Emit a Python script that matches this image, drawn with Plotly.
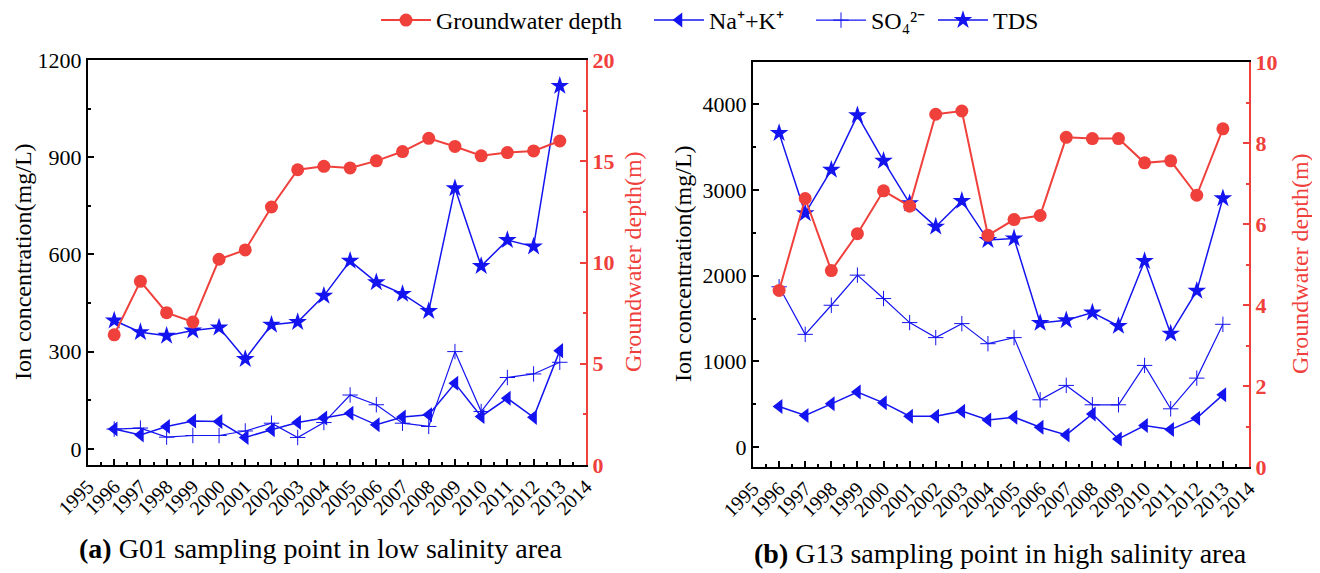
import plotly.graph_objects as go

years = list(range(1996, 2014))

# Panel (a) G01
a_depth = [6.43, 9.07, 7.52, 7.06, 10.16, 10.62, 12.74, 14.58, 14.75, 14.67, 15.02, 15.48, 16.13, 15.73, 15.27, 15.43, 15.51, 16.0]
a_nak = [61, 43, 69, 86, 84, 35, 59, 81, 95, 110, 74, 98, 105, 202, 100, 156, 97, 303]
a_so4 = [61, 64, 36, 41, 41, 55, 79, 35, 81, 166, 136, 79, 69, 300, 115, 220, 231, 267]
a_tds = [396, 360, 349, 365, 374, 277, 383, 391, 472, 580, 514, 478, 425, 804, 564, 644, 624, 1120]

# Panel (b) G13
b_depth = [4.36, 6.63, 4.85, 5.76, 6.82, 6.44, 8.71, 8.79, 5.72, 6.11, 6.21, 8.14, 8.11, 8.11, 7.51, 7.56, 6.71, 8.35]
b_nak = [475, 370, 506, 643, 518, 362, 362, 421, 319, 351, 234, 144, 389, 97, 253, 206, 339, 611]
b_so4 = [1870, 1316, 1655, 2006, 1733, 1453, 1278, 1441, 1207, 1278, 553, 721, 495, 495, 954, 448, 806, 1433]
b_tds = [3661, 2727, 3233, 3868, 3338, 2843, 2571, 2871, 2415, 2434, 1449, 1480, 1570, 1414, 2170, 1324, 1823, 2902]

x_ticks = list(range(1995, 2015))

names = ["Groundwater depth", "Na\u207a+K\u207a", "SO\u2084\u00b2\u207b", "TDS"]

RED = "#f0403c"
BLUE = "#1414f0"
FONT = "Liberation Serif, Times New Roman, serif"

# page has an 8px body margin; figure is sized to fill the rest of the window
OFF = 8
W, H = 1320 - OFF, 573 - OFF


def fx(px):
    return (px - OFF) / W


def fy(py):
    return 1 - (py - OFF) / H


fig = go.Figure()


def add_panel(xa, ya, ya2, depth, nak, so4, tds, show):
    fig.add_trace(go.Scatter(x=years, y=nak, name=names[1], mode="lines+markers",
                             line=dict(color=BLUE, width=1.5),
                             marker=dict(symbol="triangle-left", size=13, color=BLUE),
                             xaxis=xa, yaxis=ya, showlegend=show, legend="legend2"))
    fig.add_trace(go.Scatter(x=years, y=so4, name=names[2], mode="lines+markers",
                             line=dict(color=BLUE, width=1.2),
                             marker=dict(symbol="cross-thin", size=11, color=BLUE,
                                         line=dict(color=BLUE, width=1)),
                             xaxis=xa, yaxis=ya, showlegend=show, legend="legend3"))
    fig.add_trace(go.Scatter(x=years, y=tds, name=names[3], mode="lines+markers",
                             line=dict(color=BLUE, width=1.5),
                             marker=dict(symbol="star", size=14, color=BLUE),
                             xaxis=xa, yaxis=ya, showlegend=show, legend="legend4"))
    fig.add_trace(go.Scatter(x=years, y=depth, name=names[0], mode="lines+markers",
                             line=dict(color=RED, width=2),
                             marker=dict(symbol="circle", size=13, color=RED),
                             xaxis=xa, yaxis=ya2, showlegend=show, legend="legend"))


add_panel("x", "y", "y2", a_depth, a_nak, a_so4, a_tds, True)
add_panel("x2", "y3", "y4", b_depth, b_nak, b_so4, b_tds, False)


def xaxis(domain, anchor):
    return dict(domain=domain, anchor=anchor, range=[1995, 2014], tickvals=x_ticks,
                ticktext=[str(v) for v in x_ticks], tickangle=-45, automargin=False,
                ticks="inside", ticklen=6, tickwidth=1.5, tickcolor="black",
                minor=dict(ticks="inside", ticklen=3, dtick=0.5, tick0=1995.5, tickcolor="black"),
                showline=True, linecolor="black", linewidth=2, mirror=True,
                showgrid=False, zeroline=False,
                tickfont=dict(family=FONT, size=20, color="black"))


def yleft(domain, anchor, rng, dtick):
    return dict(domain=domain, anchor=anchor, range=rng, dtick=dtick, tick0=0, automargin=False,
                ticks="inside", ticklen=6, tickwidth=1.5, tickcolor="black",
                minor=dict(ticks="inside", ticklen=3, dtick=dtick / 2, tickcolor="black"),
                showline=True, linecolor="black", linewidth=2,
                showgrid=False, zeroline=False,
                tickfont=dict(family=FONT, size=22, color="black"))


def yright(overlay, anchor, rng, dtick):
    return dict(overlaying=overlay, anchor=anchor, side="right", range=rng, dtick=dtick, tick0=0,
                automargin=False,
                ticks="inside", ticklen=6, tickwidth=1.5, tickcolor=RED,
                minor=dict(ticks="inside", ticklen=3, dtick=dtick / 2, tickcolor=RED),
                showline=True, linecolor=RED, linewidth=2,
                showgrid=False, zeroline=False,
                tickfont=dict(family=FONT, size=22, color=RED, weight="bold"))


def legend(text_start_px):
    return dict(orientation="h", x=fx(text_start_px - 61), xanchor="left",
                y=fy(21 - 23), yanchor="top", itemwidth=50,
                font=dict(family=FONT, size=24, color="black"),
                bgcolor="rgba(0,0,0,0)")


def vtitle(text, px, py, color):
    return dict(text=text, x=fx(px), y=fy(py), xref="paper", yref="paper",
                xanchor="center", yanchor="middle", textangle=-90, showarrow=False,
                font=dict(family=FONT, size=24, color=color))


def caption(text, px, py):
    return dict(text=text, x=fx(px), y=fy(py), xref="paper", yref="paper",
                xanchor="left", yanchor="middle", showarrow=False,
                font=dict(family=FONT, size=28, color="black"))


fig.update_layout(
    width=W, height=H,
    margin=dict(l=0, r=0, t=0, b=0, autoexpand=False),
    paper_bgcolor="white", plot_bgcolor="white",
    font=dict(family=FONT, color="black"),
    xaxis=xaxis([fx(88), fx(586)], "y"),
    yaxis=yleft([fy(465), fy(60)], "x", [-50, 1200], 300),
    yaxis2=yright("y", "x", [0, 20], 5),
    xaxis2=xaxis([fx(753), fx(1249)], "y3"),
    yaxis3=yleft([fy(467), fy(62)], "x2", [-230, 4490], 1000),
    yaxis4=yright("y3", "x2", [0, 10], 2),
    legend=legend(437),
    legend2=legend(710),
    legend3=legend(872),
    legend4=legend(994),
    annotations=[
        vtitle("Ion concentration(mg/L)", 23, 262, "black"),
        vtitle("Groundwater depth(m)", 633, 262, RED),
        vtitle("Ion concentration(mg/L)", 683, 264, "black"),
        vtitle("Groundwater depth(m)", 1300, 264, RED),
        caption("<b>(a)</b> G01 sampling point in low salinity area", 77, 548),
        caption("<b>(b)</b> G13 sampling point in high salinity area", 752, 553),
    ],
)

fig.write_html("out.html")
